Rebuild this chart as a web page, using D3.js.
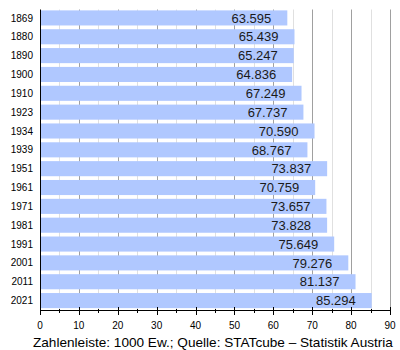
<!DOCTYPE html>
<html><head><meta charset="utf-8">
<script src="https://cdn.jsdelivr.net/npm/d3@7"></script>
<style>body{margin:0;background:#fff}svg{display:block;font-family:"Liberation Sans",Arial,sans-serif}</style>
</head><body><svg id="c" width="400" height="350"></svg>
<script>
const years = ["1869","1880","1890","1900","1910","1923","1934","1939","1951","1961","1971","1981","1991","2001","2011","2021"];
const values = [63.595,65.439,65.247,64.836,67.249,67.737,70.590,68.767,73.837,70.759,73.657,73.828,75.649,79.276,81.137,85.294];
const labels = ["63.595","65.439","65.247","64.836","67.249","67.737","70.590","68.767","73.837","70.759","73.657","73.828","75.649","79.276","81.137","85.294"];
const majorTicks = [0,10,20,30,40,50,60,70,80,90];
const minorTicks = [5,15,25,35,45,55,65,75,85];
const caption = "Zahlenleiste: 1000 Ew.; Quelle: STATcube – Statistik Austria";

const svg = d3.select("#c");
const x = d3.scaleLinear().domain([0,90]).range([40,390]);
const y = d3.scaleBand().domain(years).range([8.5,310]).paddingInner(0.2).paddingOuter(0.1);
const plotTop = 9.5, plotBottom = 310;

// gridlines
svg.append("g").selectAll("line").data(minorTicks).join("line")
  .attr("x1",d=>Math.round(x(d))+0.5).attr("x2",d=>Math.round(x(d))+0.5)
  .attr("y1",plotTop).attr("y2",plotBottom).attr("stroke","#e0e0e0");
svg.append("g").selectAll("line").data(majorTicks.slice(1)).join("line")
  .attr("x1",d=>Math.round(x(d))+0.5).attr("x2",d=>Math.round(x(d))+0.5)
  .attr("y1",plotTop).attr("y2",plotBottom).attr("stroke","#a0a0a0");

// bars
svg.append("g").selectAll("rect").data(values).join("rect")
  .attr("x",x(0)).attr("y",(d,i)=>y(years[i]))
  .attr("width",d=>x(d)-x(0)).attr("height",y.bandwidth())
  .attr("fill","#b0c8ff");

// value labels
svg.append("g").selectAll("text").data(values).join("text")
  .attr("x",d=>x(d)-16).attr("y",(d,i)=>y(years[i])+y.bandwidth()/2)
  .attr("dy","0.36em").attr("text-anchor","end")
  .attr("font-size",13).attr("fill","#1a1a1a")
  .text((d,i)=>labels[i]);

// year labels
svg.append("g").selectAll("text").data(years).join("text")
  .attr("x",33).attr("y",d=>y(d)+y.bandwidth()/2)
  .attr("dy","0.36em").attr("text-anchor","end")
  .attr("font-size",10).attr("fill","#000")
  .text(d=>d);

// axes lines
svg.append("line").attr("x1",40.5).attr("x2",40.5).attr("y1",plotTop).attr("y2",plotBottom+3).attr("stroke","#000");
svg.append("line").attr("x1",40).attr("x2",390.5).attr("y1",plotBottom+0.5).attr("y2",plotBottom+0.5).attr("stroke","#000");

// ticks
svg.append("g").selectAll("line").data(majorTicks).join("line")
  .attr("x1",d=>Math.round(x(d))+0.5).attr("x2",d=>Math.round(x(d))+0.5)
  .attr("y1",plotBottom-3).attr("y2",plotBottom+5).attr("stroke","#000");
svg.append("g").selectAll("line").data(minorTicks).join("line")
  .attr("x1",d=>Math.round(x(d))+0.5).attr("x2",d=>Math.round(x(d))+0.5)
  .attr("y1",plotBottom-1).attr("y2",plotBottom+3).attr("stroke","#000");

svg.append("g").selectAll("text").data(majorTicks).join("text")
  .attr("x",d=>x(d)).attr("y",329).attr("text-anchor","middle")
  .attr("font-size",10).attr("fill","#000").text(d=>d);

svg.append("text").attr("x",33).attr("y",346.5).attr("font-size",13.6).attr("fill","#000").text(caption);
</script></body></html>
